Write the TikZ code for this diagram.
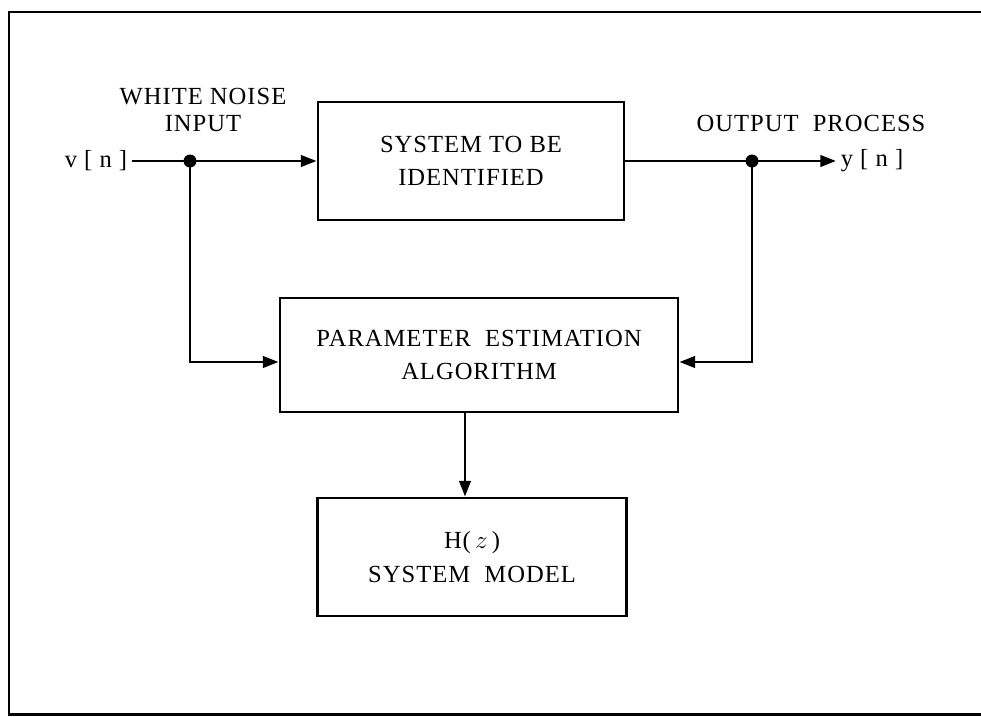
\documentclass[tikz,border=0pt]{standalone}
\usepackage{fontspec}
\setmainfont{Liberation Serif}[LetterSpace=4]
\usetikzlibrary{arrows.meta}
\begin{document}
\begin{tikzpicture}[x=0.02cm,y=-0.02cm,>={Triangle[length=9pt,width=6.5pt]},
  blk/.style={draw,line width=1.6pt,align=center,inner sep=0pt,
    font=\fontsize{14}{19}\selectfont},
  lbl/.style={inner sep=2.5pt,align=center,font=\fontsize{14}{15}\selectfont},
  wire/.style={line width=1.6pt}]
  \useasboundingbox (0,0) rectangle (981,717);
  \draw[line width=1.7pt] (981,12) -- (9,12) -- (9,714) -- (981,714);

  \node[blk,minimum width=6.12cm,minimum height=2.36cm] (sys) at (471,161)
    {SYSTEM TO BE\\IDENTIFIED};
  \node[blk,minimum width=7.96cm,minimum height=2.28cm] (est) at (479,355)
    {PARAMETER\ \ ESTIMATION\\ALGORITHM};
  \node[blk,minimum width=6.18cm,minimum height=2.36cm] (model) at (472,557)
    {H(\,\(z\)\,)\\SYSTEM\ \ MODEL};

  \node[lbl] (vn) at (96,161) {v [ n ]};
  \node[lbl] (yn) at (872,161) {y [ n ]};
  \node[lbl] (wnl) at (203,110) {WHITE NOISE\\INPUT};
  \node[lbl] (opl) at (811,123) {OUTPUT\ \ PROCESS};

  \coordinate (wn) at (190,161);
  \coordinate (op) at (752,161);
  \coordinate (fb) at (0,362);
  \coordinate (dn) at (465,0);

  \draw[wire,->] (vn) -- (sys.west);
  \draw[wire,->] (sys.east) -- (yn);
  \draw[wire,->] (wn) |- (est.west |- fb);
  \draw[wire,->] (op) |- (est.east |- fb);
  \draw[wire,->] (est.south -| dn) -- (model.north -| dn);

  \foreach \q in {wn,op}
    \fill (\q) circle (6.5);
\end{tikzpicture}
\end{document}
